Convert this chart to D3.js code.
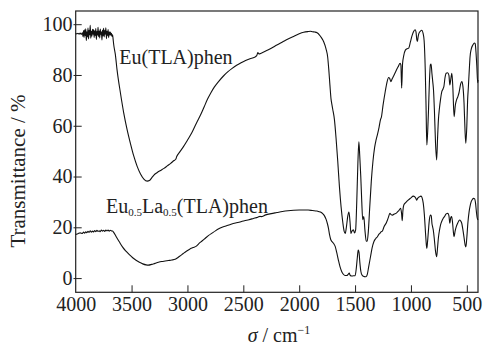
<!DOCTYPE html>
<html>
<head>
<meta charset="utf-8">
<script src="https://cdn.jsdelivr.net/npm/d3@7"></script>
<style>
  html, body { margin: 0; padding: 0; background: #fff; }
  svg { display: block; }
  text { font-family: "Liberation Serif", "Times New Roman", serif; fill: #222; }
</style>
</head>
<body>
<svg id="chart" width="485" height="346"></svg>
<script>
// ---------- data ----------
const xTicks = [4000, 3500, 3000, 2500, 2000, 1500, 1000, 500];
const yTicks = [0, 20, 40, 60, 80, 100];

const seriesNames = ["Eu(TLA)phen", "Eu0.5La0.5(TLA)phen"];

const wnUpper = [4000,3990,3980,3970,3960,3950,3940,3935,3930,3925,3920,3915,3910,3905,3900,3895,3890,3885,3880,3875,3870,3865,3860,3855,3850,3845,3840,3835,3830,3825,3820,3815,3810,3805,3800,3795,3790,3785,3780,3775,3770,3765,3760,3755,3750,3745,3740,3735,3730,3725,3720,3715,3710,3705,3700,3695,3690,3685,3680,3675,3670,3665,3660,
3645,3630,3600,3570,3540,3510,3480,3450,3420,3390,3360,3340,3320,3300,3270,3240,3210,3180,3150,3120,3105,3095,3070,3040,3000,2960,2920,2880,2850,2820,2790,2760,2720,2680,2640,2600,2560,2520,2480,2440,2400,2380,2370,2360,2340,2300,2250,2200,2150,2100,2050,2000,1960,1920,1900,1880,1860,1840,1820,1800,1780,1760,1745,1735,1725,1715,1708,1700,1685,1670,1655,1640,1625,1610,1598,1588,1578,1565,1555,1545,1537,1528,1515,1505,1495,1485,1475,1466,1458,1449,1440,1432,1422,1412,1400,1392,1382,1370,1355,1340,1325,1312,1300,1285,1272,1265,1250,1230,1215,1200,1190,1180,1168,1155,1135,1115,1097,1090,1083,1075,1065,1050,1035,1020,1005,990,975,963,955,948,942,936,928,915,903,892,882,872,865,858,850,843,835,826,820,812,805,798,790,780,770,762,754,746,735,724,713,705,695,685,672,660,652,643,634,625,614,603,592,580,570,555,545,535,525,516,509,500,493,486,478,471,460,446,432,425,418,410,403,400];
const tUpper = [96.3,96.2,96.4,96.1,96.5,96.0,96.6,95.2,97.5,94.8,97.8,95.5,98.2,93.6,97.0,95.0,98.5,94.2,97.6,95.8,99.6,94.5,97.2,95.3,98.0,96.0,97.9,94.8,97.4,95.6,98.3,94.0,97.1,95.7,98.8,95.1,97.3,94.6,98.1,95.9,97.0,93.8,97.7,95.4,98.4,95.0,97.5,96.1,98.6,94.3,97.2,95.5,97.9,94.7,97.0,95.8,96.9,95.6,96.4,95.2,95.8,94.0,92.0,
88,82,73,65,58.5,53,48,44,41,39,38.2,38.4,39.5,40.6,41.6,42.4,43.2,44.2,45.2,46.3,46.8,48.0,49.6,51.5,54.3,57.3,61,64.5,67.5,70.5,73,75.2,77.5,79.5,81.2,82.6,83.8,84.8,85.7,86.4,87.0,87.6,88.8,88.3,88.6,89.4,90.5,91.8,93.0,94.2,95.2,96.2,96.8,97.1,97.2,97.0,96.9,96.6,95.8,94.6,93.0,90.3,87,82,76,70.5,68.5,66.5,62.5,55,46,36,28,22,18.5,17.6,20,24.5,26,22,17.6,18.5,19.0,17.8,19,30,45,53.7,48,40,30,23,24.2,19,14.5,14.5,18,27,38,46,51.5,54.4,56.5,59.5,62.5,63.3,68,73.5,77,79,78.6,77.4,78.5,79.6,81.5,83.2,84.6,84,74.8,84.5,87.5,89.8,90.3,90.6,93,95.5,97.2,97.8,97,94,93.2,95,96.5,97.3,97.6,96.5,93.5,82,68,52.4,58,66,77,84,84.3,80.5,77.4,74,66,53,46.5,55,62.5,66.5,70.5,73.4,74.5,75.5,79,80.7,80.9,79.8,76.1,78.5,80.7,75,63.6,68,70.2,71.5,73,76.5,77.4,75.5,69,58,53.1,60,70,75.4,82,87.2,90.3,91.8,92.6,92.3,89,83,77,78];

const wnLower = [4000,3980,3960,3940,3930,3920,3910,3900,3890,3880,3870,3860,3850,3840,3830,3820,3810,3800,3790,3780,3770,3760,3750,3740,3730,3720,3710,3700,3690,3680,3670,3660,3640,3610,3580,3550,3520,3490,3460,3430,3400,3370,3350,3320,3290,3260,3230,3200,3170,3140,3110,3095,3070,3040,3010,2980,2950,2920,2900,2870,2840,2810,2780,2750,2720,2690,2650,2610,2570,2530,2490,2450,2410,2370,2350,2340,2300,2250,2200,2150,2100,2050,2000,1960,1920,1880,1840,1810,1790,1775,1760,1748,1738,1728,1718,1705,1690,1678,1665,1650,1635,1620,1605,1590,1575,1560,1552,1545,1530,1515,1500,1490,1480,1472,1465,1457,1448,1438,1425,1410,1400,1390,1378,1362,1348,1332,1316,1300,1286,1276,1268,1256,1240,1220,1205,1188,1178,1165,1150,1130,1110,1092,1084,1078,1072,1064,1045,1025,1000,980,965,955,948,940,925,910,900,890,880,870,862,858,852,843,835,825,818,812,806,800,790,780,770,762,754,744,735,724,712,700,685,670,660,652,644,636,628,620,614,605,595,580,565,555,545,535,525,515,508,500,490,480,470,460,450,440,430,422,414,406,400];
const tLower = [17.2,17.5,17.8,17.6,18.1,17.7,18.2,17.9,18.4,18.0,18.6,18.1,18.5,18.2,18.7,18.3,18.8,18.4,18.6,18.3,18.9,18.5,18.8,18.4,18.9,18.6,18.9,18.5,18.8,18.6,18.5,18.0,16.5,14.3,12.2,10.6,9.2,8.0,7.0,6.2,5.6,5.2,5.1,5.4,5.8,6.2,6.5,6.7,6.9,7.1,7.4,7.8,8.6,9.6,10.6,11.4,12.0,12.6,13.5,14.6,15.7,16.8,17.7,18.6,19.4,20.0,20.6,21.2,21.7,22.1,22.6,23.0,23.5,24.0,24.3,24.2,24.9,25.4,25.8,26.2,26.5,26.7,26.8,26.8,26.8,26.6,26.4,26.0,25.4,24.6,23.2,21.5,19.6,17,15.2,14.3,13.5,12.5,10.2,7.2,4.5,2.6,1.5,1.0,1.0,1.6,2.0,1.2,0.8,0.9,0.9,3.5,8,11,10.2,6,2.6,1.2,0.7,0.5,0.6,1.6,4.5,8.4,11.8,14.3,15.5,16.3,17.3,17.7,18.2,18.5,20.3,21.8,23.5,25.5,25.0,24.8,25.2,25.6,26.5,27.5,25.5,22.6,26.5,28.8,29.8,30.7,31.6,32.3,32.0,31.3,30.7,31.4,32.0,32.3,31.6,29.5,25,18,13,11.7,14,19,23,24.8,24.5,21.5,20.2,18.9,15,10.5,8.4,12,16,19,21,22.4,23.5,24.2,25.3,25.5,24.5,21.6,23.8,24.2,22,18,16.3,18.5,20.2,21.8,22.9,22.5,21.5,19,16,13,12.3,16,22,26,28.5,30.2,31.0,31.4,31.2,29.5,26,23.5,22.9];

// ---------- layout ----------
const plotL = 75.7, plotR = 478, plotT = 11, plotB = 292.3;

const svg = d3.select("#chart");
const x = d3.scaleLinear().domain([4000, 400]).range([plotL, plotR]);
const y = d3.scaleLinear().domain([-5.6, 105.2]).range([plotB, plotT]);

// frame
svg.append("rect")
  .attr("x", plotL).attr("y", plotT)
  .attr("width", plotR - plotL).attr("height", plotB - plotT)
  .attr("fill", "none").attr("stroke", "#222").attr("stroke-width", 1.2);

// x axis
const gx = svg.append("g").attr("transform", `translate(0,${plotB})`)
  .call(d3.axisBottom(x).tickValues(xTicks).tickSizeInner(-7).tickSizeOuter(0).tickPadding(4.5).tickFormat(d3.format("d")));
gx.select(".domain").remove();
gx.selectAll(".tick line").attr("stroke", "#222");
gx.selectAll(".tick text").attr("font-size", 20).attr("fill", "#222")
  .style("font-family", '"Liberation Serif", serif');
gx.selectAll(".tick").filter(d => d === 4000).select("line").remove();

// y axis
const gy = svg.append("g").attr("transform", `translate(${plotL},0)`)
  .call(d3.axisLeft(y).tickValues(yTicks).tickSizeInner(-6).tickSizeOuter(0).tickPadding(3.2).tickFormat(d3.format("d")));
gy.select(".domain").remove();
gy.selectAll(".tick line").attr("x1", -2.2).attr("stroke", "#222");
gy.selectAll(".tick text").attr("font-size", 20).attr("fill", "#222")
  .style("font-family", '"Liberation Serif", serif');

// lines
const line = d3.line().x(d => x(d[0])).y(d => y(d[1])).curve(d3.curveMonotoneX);
const upper = wnUpper.map((w, i) => [w, tUpper[i]]);
const lower = wnLower.map((w, i) => [w, tLower[i]]);
[upper, lower].forEach(data => {
  svg.append("path").datum(data)
    .attr("d", line)
    .attr("fill", "none").attr("stroke", "#111").attr("stroke-width", 1.1)
    .attr("stroke-linejoin", "round");
});

// series labels
svg.append("text").attr("x", 119.3).attr("y", 64).attr("font-size", 20)
  .text(seriesNames[0]);

const t2 = svg.append("text").attr("x", 106).attr("y", 213.3).attr("font-size", 20);
t2.append("tspan").text("Eu");
t2.append("tspan").attr("font-size", 11).attr("dy", 3).text("0.5");
t2.append("tspan").attr("dy", -3).text("La");
t2.append("tspan").attr("font-size", 11).attr("dy", 3).text("0.5");
t2.append("tspan").attr("dy", -3).text("(TLA)phen");

// axis titles
svg.append("text")
  .attr("transform", `translate(25,${171}) rotate(-90)`)
  .attr("text-anchor", "middle").attr("font-size", 21)
  .text("Transmittance / %");

const xt = svg.append("text").attr("x", 279).attr("y", 342).attr("text-anchor", "middle").attr("font-size", 20);
xt.append("tspan").attr("font-style", "italic").text("σ");
xt.append("tspan").text(" / cm");
xt.append("tspan").attr("font-size", 12).attr("dy", -8).text("−1");
</script>
</body>
</html>
